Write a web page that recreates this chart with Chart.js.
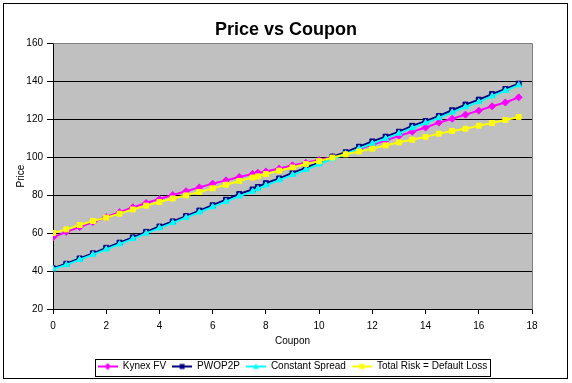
<!DOCTYPE html>
<html>
<head>
<meta charset="utf-8">
<script src="https://cdn.jsdelivr.net/npm/chart.js@4.4.1/dist/chart.umd.min.js"></script>
<style>
  html, body { margin: 0; padding: 0; background: #fff; }
  #wrap { width: 572px; height: 383px; }
</style>
</head>
<body>
<div id="wrap"><canvas id="c" width="572" height="383"></canvas></div>
<script>
// ---- data ----
const coupons = [0,0.5,1,1.5,2,2.5,3,3.5,4,4.5,5,5.5,6,6.5,7,7.5,7.7,8,8.5,9,9.5,10,10.5,11,11.5,12,12.5,13,13.5,14,14.5,15,15.5,16,16.5,17,17.5];
const kynexFV = [57.7,60.6,63.1,65.8,68.4,71.0,73.5,75.8,77.9,80.0,82.0,84.0,86.0,87.7,89.5,91.1,91.7,92.4,93.9,95.6,97.0,98.4,100.0,101.8,104.0,106.5,108.7,111.1,113.3,115.5,118.1,120.1,122.3,124.4,126.7,128.7,131.4];
const pwop2p = [41.4,43.8,46.6,49.3,52.2,54.9,57.7,60.6,63.4,66.1,68.9,71.8,74.6,77.5,80.5,82.9,84.2,86.2,88.7,91.6,94.3,97.3,100.2,102.5,105.4,108.2,110.7,113.3,116.4,118.9,121.6,124.6,127.6,130.2,133.1,135.8,138.6];
const constantSpread = [41.0,43.2,45.9,48.6,51.4,54.1,56.9,59.8,62.6,65.3,68.1,70.9,73.7,76.5,79.4,81.9,83.2,85.1,87.8,90.6,93.3,96.2,99.0,101.6,104.4,107.1,109.7,112.4,115.3,117.9,120.6,123.5,126.3,129.0,132.0,134.9,137.8];
const totalRisk = [60.0,61.9,64.2,66.3,68.1,70.2,72.4,74.4,76.3,78.2,79.8,81.6,83.5,85.4,87.4,89.2,89.8,91.0,92.8,94.5,96.3,97.8,99.7,101.4,102.9,104.4,106.1,107.7,109.1,110.6,112.3,113.7,114.9,116.5,117.9,119.5,121.1];
const seriesNames = ['Kynex FV', 'PWOP2P', 'Constant Spread', 'Total Risk = Default Loss'];
const xTicks = [0,2,4,6,8,10,12,14,16,18];
const yTicks = [20,40,60,80,100,120,140,160];
const titleText = 'Price vs Coupon';
const xTitle = 'Coupon';
const yTitle = 'Price';

const FONT = "'Liberation Sans', Arial, sans-serif";
Chart.defaults.font.family = FONT;
Chart.defaults.font.size = 10;
Chart.defaults.color = '#000';

function pts(vals) { return coupons.map((x, i) => ({x: x, y: vals[i]})); }

const styles = [
  {color: '#FF00FF', point: 'rectRot', r: 3.5},
  {color: '#000080', point: 'rect', r: 3.5},
  {color: '#00FFFF', point: 'triangle', r: 3.5},
  {color: '#FFFF00', point: 'rect', r: 3.5}
];
const values = [kynexFV, pwop2p, constantSpread, totalRisk];

const datasets = values.map((v, i) => ({
  label: seriesNames[i],
  data: pts(v),
  yAxisID: 'y',
  borderColor: styles[i].color,
  backgroundColor: styles[i].color,
  pointBackgroundColor: styles[i].color,
  pointBorderColor: styles[i].color,
  pointStyle: styles[i].point,
  pointRadius: styles[i].r,
  pointBorderWidth: 1,
  borderWidth: 2,
  tension: 0,
  fill: false,
  order: 4 - i
}));

function legendIcon(st) {
  const cv = document.createElement('canvas');
  cv.width = 20; cv.height = 8;
  const g = cv.getContext('2d');
  g.strokeStyle = st.color; g.lineWidth = 2;
  g.beginPath(); g.moveTo(0, 4); g.lineTo(20, 4); g.stroke();
  g.fillStyle = st.color;
  if (st.point === 'rectRot') {
    g.beginPath(); g.moveTo(10, 0.5); g.lineTo(13.5, 4); g.lineTo(10, 7.5); g.lineTo(6.5, 4); g.closePath(); g.fill();
  } else if (st.point === 'triangle') {
    g.beginPath(); g.moveTo(10, 1); g.lineTo(13, 6.5); g.lineTo(7, 6.5); g.closePath(); g.fill();
  } else {
    g.fillRect(7.5, 1.5, 5, 5);
  }
  return cv;
}

const bgPlugin = {
  id: 'bg',
  beforeDraw(chart) {
    const {ctx, chartArea: a} = chart;
    ctx.save();
    ctx.fillStyle = '#fff';
    ctx.fillRect(0, 0, chart.width, chart.height);
    ctx.fillStyle = '#C0C0C0';
    ctx.fillRect(a.left, a.top, a.right - a.left, a.bottom - a.top);
    ctx.restore();
  },
  beforeDatasetsDraw(chart) {
    const {ctx, chartArea: a} = chart;
    ctx.save();
    ctx.strokeStyle = '#808080';
    ctx.lineWidth = 1;
    ctx.beginPath();
    ctx.moveTo(Math.round(a.left) + 0.5, Math.round(a.top) + 0.5);
    ctx.lineTo(Math.round(a.right) + 0.5, Math.round(a.top) + 0.5);
    ctx.lineTo(Math.round(a.right) + 0.5, Math.round(a.bottom) + 0.5);
    ctx.stroke();
    ctx.restore();
  },
  afterDraw(chart) {
    const ctx = chart.ctx;
    ctx.save();
    ctx.strokeStyle = '#000';
    ctx.lineWidth = 1;
    ctx.strokeRect(3.5, 3.5, 564, 375);
    const hb = chart.legend && chart.legend.legendHitBoxes;
    if (hb && hb.length) {
      const l = Math.min(...hb.map(h => h.left)) - 3;
      const r = Math.max(...hb.map(h => h.left + h.width)) + 2;
      const t = hb[0].top - 3;
      const b = hb[0].top + hb[0].height + 4;
      ctx.strokeRect(Math.round(l) + 0.5, Math.round(t) + 0.5, Math.round(r - l), Math.round(b - t));
    }
    ctx.restore();
  }
};

new Chart(document.getElementById('c'), {
  type: 'line',
  data: { datasets: datasets },
  plugins: [bgPlugin],
  options: {
    responsive: false,
    animation: false,
    devicePixelRatio: 1,
    layout: { padding: { top: 8, left: 0, right: 0, bottom: 1.5 } },
    plugins: {
      title: {
        display: true,
        text: titleText,
        font: { size: 18, weight: 'bold', family: FONT },
        color: '#000',
        padding: { top: 11.5, bottom: 1.9 }
      },
      legend: {
        display: true,
        position: 'bottom',
        fullSize: false,
        labels: {
          usePointStyle: true,
          pointStyleWidth: 20,
          padding: 6,
          font: { size: 10, family: FONT },
          color: '#000',
          sort: (a, b) => a.datasetIndex - b.datasetIndex,
          generateLabels: (chart) => chart.data.datasets.map((ds, i) => ({
            text: ds.label,
            pointStyle: legendIcon(styles[i]),
            datasetIndex: i,
            hidden: false,
            lineWidth: 0,
            fillStyle: styles[i].color,
            strokeStyle: styles[i].color,
            fontColor: '#000'
          }))
        }
      },
      tooltip: { enabled: false }
    },
    scales: {
      x: {
        type: 'linear',
        min: 0, max: 18,
        afterBuildTicks: (s) => { s.ticks = xTicks.map(v => ({value: v})); },
        ticks: { padding: 6, font: { size: 10, family: FONT }, color: '#000', maxRotation: 0 },
        grid: { drawOnChartArea: false, drawTicks: true, tickLength: 5, color: '#000' },
        border: { color: '#000', width: 1 },
        title: { display: true, text: xTitle, font: { size: 10, family: FONT }, color: '#000', padding: { top: 0, bottom: 7.8 } },
        afterFit: (s) => { s.height = 46.5; }
      },
      y: {
        type: 'linear',
        position: 'left',
        min: 20, max: 160,
        afterBuildTicks: (s) => { s.ticks = yTicks.map(v => ({value: v})); },
        ticks: { padding: 4, font: { size: 10, family: FONT }, color: '#000' },
        grid: { color: '#000', lineWidth: 1, drawTicks: true, tickLength: 6 },
        border: { color: '#000', width: 1 },
        title: { display: true, text: yTitle, font: { size: 10, family: FONT }, color: '#000', padding: { top: 15, bottom: 0 } },
        afterFit: (s) => { s.width = 53; }
      },
      gap: {
        type: 'linear',
        position: 'right',
        display: true,
        min: 0, max: 1,
        grid: { display: false, drawTicks: false, drawOnChartArea: false },
        ticks: { display: false },
        border: { display: false },
        title: { display: false },
        afterFit: (s) => { s.width = 40; }
      }
    }
  }
});
</script>
</body>
</html>
